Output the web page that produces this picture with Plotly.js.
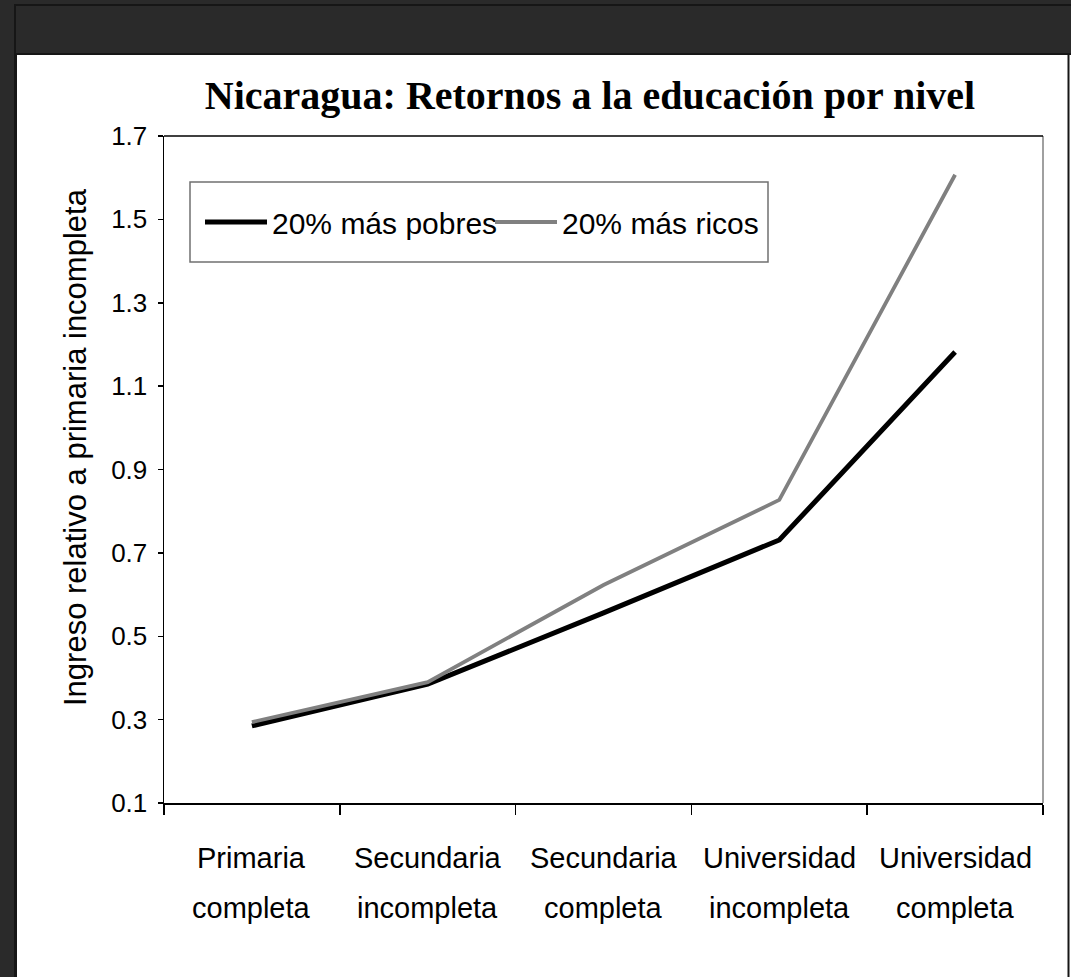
<!DOCTYPE html>
<html>
<head>
<meta charset="utf-8">
<script src="https://cdn.plot.ly/plotly-3.0.1.min.js"></script>
<style>
html,body{margin:0;padding:0;background:#2a2a2a;}
#chart{width:1071px;height:977px;}
</style>
</head>
<body>
<div id="chart"></div>
<script>
// ---- data ----
var categories = ["Primaria completa", "Secundaria incompleta", "Secundaria completa", "Universidad incompleta", "Universidad completa"];
var pobres = [0.285, 0.385, 0.556, 0.731, 1.182];
var ricos  = [0.294, 0.390, 0.623, 0.827, 1.607];
var seriesNames = ["20% más pobres", "20% más ricos"];
var titleText = "Nicaragua: Retornos a la educación por nivel";
var yTitleText = "Ingreso relativo a primaria incompleta";
var yTicks = [0.1, 0.3, 0.5, 0.7, 0.9, 1.1, 1.3, 1.5, 1.7];

// ---- layout helpers (pixel -> paper) ----
var L = 164, R = 1043, T = 136, B = 803, W = 1071, H = 977;
function px(x){ return (x - L) / (R - L); }
function py(y){ return (B - y) / (B - T); }

var traces = [
  {x: categories, y: pobres, name: seriesNames[0], type: 'scatter', mode: 'lines',
   line: {color: '#000000', width: 5}},
  {x: categories, y: ricos, name: seriesNames[1], type: 'scatter', mode: 'lines',
   line: {color: '#808080', width: 3.8}}
];

var ann = [];
categories.forEach(function(c){
  var i = c.indexOf(' ');
  var l1 = c.slice(0, i), l2 = c.slice(i + 1);
  ann.push({x: c, xref: 'x', y: py(858), yref: 'paper', text: l1, showarrow: false,
            xanchor: 'center', yanchor: 'middle', font: {family: 'Liberation Sans, Arial', size: 29, color: '#000'}});
  ann.push({x: c, xref: 'x', y: py(908), yref: 'paper', text: l2, showarrow: false,
            xanchor: 'center', yanchor: 'middle', font: {family: 'Liberation Sans, Arial', size: 29, color: '#000'}});
});
ann.push({x: px(75), xref: 'paper', y: py(447), yref: 'paper', text: yTitleText, textangle: -90,
          showarrow: false, xanchor: 'center', yanchor: 'middle',
          font: {family: 'Liberation Sans, Arial', size: 31, color: '#000'}});

var shapes = [
  {type: 'rect', xref: 'paper', yref: 'paper', layer: 'below',
   x0: px(15), x1: px(1090), y0: py(990), y1: py(5),
   fillcolor: '#2a2a2a', line: {color: '#161616', width: 2}},
  {type: 'rect', xref: 'paper', yref: 'paper', layer: 'below',
   x0: px(16), x1: px(1090), y0: py(990), y1: py(54),
   fillcolor: '#ffffff', line: {color: '#161616', width: 2}},
  {type: 'line', xref: 'paper', yref: 'paper', layer: 'below',
   x0: px(1068.5), x1: px(1068.5), y0: py(990), y1: py(54),
   line: {color: '#161616', width: 2}},
  {type: 'rect', xref: 'paper', yref: 'paper', layer: 'below',
   x0: px(190), x1: px(768), y0: py(262), y1: py(182),
   fillcolor: '#ffffff', line: {color: '#707070', width: 1.5}},
  {type: 'line', xref: 'paper', yref: 'paper', x0: 1, x1: 1, y0: 0, y1: 1,
   line: {color: '#808080', width: 1.5}},
  {type: 'line', xref: 'paper', yref: 'paper', x0: 0, x1: 1, y0: 1, y1: 1,
   line: {color: '#000000', width: 1.5}}
];

var layout = {
  width: W, height: H, autosize: false,
  margin: {l: L, r: W - R, t: T, b: H - B, pad: 0},
  paper_bgcolor: '#2a2a2a',
  plot_bgcolor: 'rgba(0,0,0,0)',
  showlegend: true,
  title: {text: '<b>' + titleText + '</b>', x: 590 / W, xref: 'container', xanchor: 'center',
          y: 1 - 95 / H, yref: 'container', yanchor: 'middle',
          font: {family: 'Liberation Serif, Times New Roman', size: 40, color: '#000'}},
  xaxis: {type: 'category', categoryorder: 'array', categoryarray: categories,
          range: [-0.5, categories.length - 0.5], tickson: 'boundaries',
          ticks: 'outside', ticklen: 10, tickwidth: 1.5, tickcolor: '#000',
          showticklabels: false, showline: true, linecolor: '#000', linewidth: 1.5,
          showgrid: false, zeroline: false, fixedrange: true, automargin: false},
  yaxis: {range: [0.1, 1.7], tickvals: yTicks, ticktext: yTicks.map(function(v){return v.toFixed(1);}),
          ticks: 'outside', ticklen: 5, tickwidth: 1.5, tickcolor: '#000',
          showline: true, linecolor: '#000', linewidth: 1.5, showgrid: false, zeroline: false,
          tickfont: {family: 'Liberation Sans, Arial', size: 26, color: '#000'},
          ticklabelstandoff: 5, fixedrange: true, automargin: false},
  legend: {orientation: 'h', x: px(200), y: py(222), xanchor: 'left', yanchor: 'middle',
           bgcolor: 'rgba(0,0,0,0)', borderwidth: 0, itemwidth: 62, tracegroupgap: 0,
           entrywidth: 213, entrywidthmode: 'pixels',
           font: {family: 'Liberation Sans, Arial', size: 30, color: '#000'}},
  annotations: ann,
  shapes: shapes
};

Plotly.newPlot('chart', traces, layout, {displayModeBar: false, staticPlot: true});
</script>
</body>
</html>
